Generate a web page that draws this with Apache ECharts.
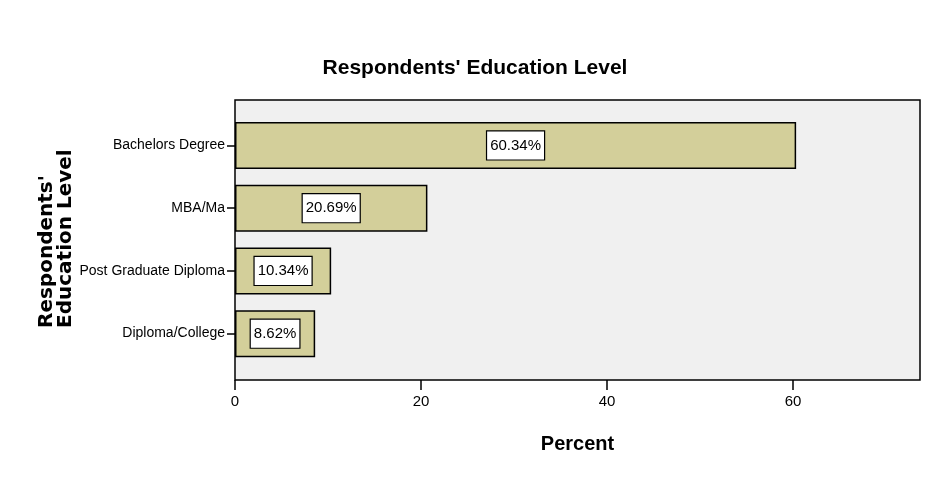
<!DOCTYPE html>
<html><head><meta charset="utf-8">
<script src="https://cdn.jsdelivr.net/npm/echarts@6/dist/echarts.min.js"></script>
<style>html,body{margin:0;padding:0;background:#fff}#c{width:936px;height:496px}</style>
</head><body><div id="c"></div>
<script>
const categories = ['Bachelors Degree', 'MBA/Ma', 'Post Graduate Diploma', 'Diploma/College'];
const percents = [60.34, 20.69, 10.34, 8.62];
const xTicks = [0, 20, 40, 60];

const SANS = '"Liberation Sans", Arial, sans-serif';
const xMax = 73.66;

const chart = echarts.init(document.getElementById('c'));
chart.setOption({
  animation: false,
  backgroundColor: '#fff',
  title: {
    text: "Respondents' Education Level",
    left: 470, top: 53, textAlign: 'center',
    textStyle: { fontFamily: SANS, fontWeight: 'bold', fontSize: 21, color: '#000' }
  },
  graphic: [{
    type: 'text', rotation: Math.PI / 2, x: 56, y: 328,
    style: {
      text: "Respondents'\nEducation Level",
      font: 'bold 20px "DejaVu Sans", sans-serif', fill: '#000', align: 'left', verticalAlign: 'middle', lineHeight: 19
    }
  }],
  grid: [
    { left: 235, right: 16, top: 100, bottom: 116, show: true, backgroundColor: '#f0f0f0', borderColor: '#000', borderWidth: 1.5, z: 0 },
    { left: 235, right: 16, top: 114, bottom: 131, show: false }
  ],
  xAxis: [
    { gridIndex: 0, type: 'value', min: 0, max: xMax, interval: 20,
      axisLine: { show: false }, splitLine: { show: false },
      axisTick: { show: true, length: 10, lineStyle: { color: '#000', width: 1.5 }, customValues: xTicks },
      axisLabel: { margin: 14, fontFamily: SANS, fontSize: 15, color: '#000', customValues: xTicks },
      name: 'Percent', nameLocation: 'middle', nameGap: 54,
      nameTextStyle: { fontFamily: SANS, fontWeight: 'bold', fontSize: 20, color: '#000' }
    },
    { gridIndex: 1, type: 'value', min: 0, max: xMax, show: false }
  ],
  yAxis: [
    { gridIndex: 0, type: 'value', show: false },
    { gridIndex: 1, type: 'category', data: categories, inverse: true,
      axisLine: { show: false },
      axisTick: { show: true, alignWithLabel: true, length: 8, lineStyle: { color: '#000', width: 1.5 } },
      axisLabel: { margin: 10, fontFamily: SANS, fontSize: 14, color: '#000' }
    }
  ],
  series: [{
    type: 'bar', xAxisIndex: 1, yAxisIndex: 1, data: percents, barWidth: 47,
    itemStyle: { color: '#d3cf9a', borderColor: '#000', borderWidth: 1.5 },
    label: {
      show: true, position: 'inside', formatter: p => p.value.toFixed(2) + '%',
      fontFamily: SANS, fontSize: 15, color: '#000',
      backgroundColor: '#fff', borderColor: '#000', borderWidth: 1.2, padding: [7, 3, 6, 3]
    }
  }]
});
</script></body></html>
